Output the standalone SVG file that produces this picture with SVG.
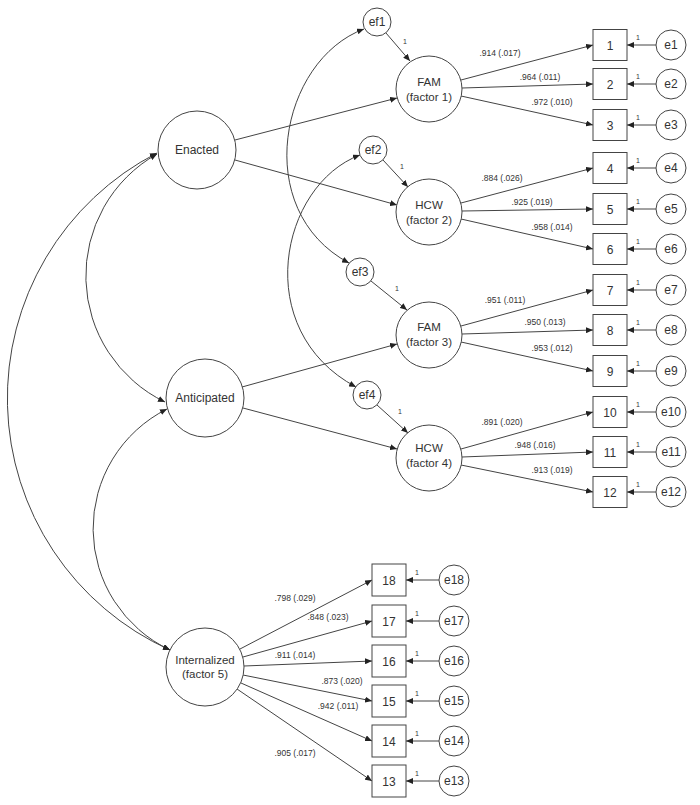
<svg xmlns="http://www.w3.org/2000/svg" width="700" height="805" viewBox="0 0 700 805">
<defs>
<marker id="ah" markerUnits="userSpaceOnUse" markerWidth="7" markerHeight="6" refX="7" refY="3" orient="auto-start-reverse">
<path d="M0,0 L7,3 L0,6 z" fill="#222"/>
</marker>
</defs>
<style>
.n{fill:#fff;stroke:#444;stroke-width:1}
.t{font-family:"Liberation Sans",Arial,sans-serif;font-size:12px;fill:#333;text-anchor:middle}
.f{font-family:"Liberation Sans",Arial,sans-serif;font-size:11.5px;fill:#333;text-anchor:middle}
.c{font-family:"Liberation Sans",Arial,sans-serif;font-size:8.5px;fill:#333;text-anchor:middle}
.o{font-family:"Liberation Sans",Arial,sans-serif;font-size:7px;fill:#333;text-anchor:middle}
.l{fill:none;stroke:#444;stroke-width:1;marker-end:url(#ah)}
.a{fill:none;stroke:#444;stroke-width:1;marker-start:url(#ah);marker-end:url(#ah)}
</style>
<rect width="700" height="805" fill="#fff"/>

<g id="connectors">
<!-- covariances -->
<path class="a" d="M157,153 A276,276 0 0 0 170,650"/>
<path class="a" d="M157,154 A140,140 0 0 0 165,402"/>
<path class="a" d="M167,409 A134,134 0 0 0 170,650"/>
<path class="a" d="M364,29 C280,60 250,210 349,263"/>
<path class="a" d="M360,155 C280,185 250,330 356,387"/>
<!-- structural -->
<path class="l" d="M235,140 L397,98"/>
<path class="l" d="M235,160 L397,205"/>
<path class="l" d="M242,387 L397,344"/>
<path class="l" d="M243,408 L397,449"/>
<path class="l" d="M386,33 L410,61"/>
<path class="l" d="M383,160 L408,187"/>
<path class="l" d="M371,281 L407,310"/>
<path class="l" d="M377,405 L408,433"/>
<!-- loadings -->
<path class="l" d="M461,80 L593,45"/>
<path class="l" d="M462,88 L593,84"/>
<path class="l" d="M461,96 L593,125"/>
<path class="l" d="M461,203 L593,168"/>
<path class="l" d="M462,211 L593,209"/>
<path class="l" d="M461,219 L593,249"/>
<path class="l" d="M461,326 L593,290"/>
<path class="l" d="M462,334 L593,330"/>
<path class="l" d="M461,342 L593,371"/>
<path class="l" d="M461,449 L593,412"/>
<path class="l" d="M462,457 L593,452"/>
<path class="l" d="M461,465 L593,492"/>
<path class="l" d="M240,649 L372,580"/>
<path class="l" d="M243,657 L372,621"/>
<path class="l" d="M244,666 L372,661"/>
<path class="l" d="M243,675 L372,701"/>
<path class="l" d="M241,683 L372,741"/>
<path class="l" d="M237,689 L372,781"/>
<!-- errors -->
<path class="l" d="M656,45 L627,45"/>
<path class="l" d="M656,84 L627,84"/>
<path class="l" d="M656,125 L627,125"/>
<path class="l" d="M656,168 L627,168"/>
<path class="l" d="M656,209 L627,209"/>
<path class="l" d="M656,249 L627,249"/>
<path class="l" d="M656,290 L627,290"/>
<path class="l" d="M656,330 L627,330"/>
<path class="l" d="M656,371 L627,371"/>
<path class="l" d="M656,412 L627,412"/>
<path class="l" d="M656,452 L627,452"/>
<path class="l" d="M656,492 L627,492"/>
<path class="l" d="M439,580 L406,580"/>
<path class="l" d="M439,621 L406,621"/>
<path class="l" d="M439,661 L406,661"/>
<path class="l" d="M439,701 L406,701"/>
<path class="l" d="M439,741 L406,741"/>
<path class="l" d="M439,781 L406,781"/>
<!-- labels -->
<text class="o" x="405" y="44">1</text>
<text class="o" x="402" y="169">1</text>
<text class="o" x="397" y="291">1</text>
<text class="o" x="400" y="414">1</text>
<text class="c" x="500" y="56">.914 (.017)</text>
<text class="c" x="540" y="80">.964 (.011)</text>
<text class="c" x="552" y="105">.972 (.010)</text>
<text class="c" x="502" y="181">.884 (.026)</text>
<text class="c" x="532" y="205">.925 (.019)</text>
<text class="c" x="552" y="230">.958 (.014)</text>
<text class="c" x="505" y="303">.951 (.011)</text>
<text class="c" x="545" y="325">.950 (.013)</text>
<text class="c" x="552" y="351">.953 (.012)</text>
<text class="c" x="502" y="425">.891 (.020)</text>
<text class="c" x="535" y="448">.948 (.016)</text>
<text class="c" x="552" y="473">.913 (.019)</text>
<text class="c" x="295" y="601">.798 (.029)</text>
<text class="c" x="328" y="620">.848 (.023)</text>
<text class="c" x="295" y="658">.911 (.014)</text>
<text class="c" x="342" y="684">.873 (.020)</text>
<text class="c" x="338" y="709">.942 (.011)</text>
<text class="c" x="295" y="756">.905 (.017)</text>
<text class="o" x="638" y="40">1</text>
<text class="o" x="638" y="79">1</text>
<text class="o" x="638" y="120">1</text>
<text class="o" x="638" y="163">1</text>
<text class="o" x="638" y="204">1</text>
<text class="o" x="638" y="244">1</text>
<text class="o" x="638" y="285">1</text>
<text class="o" x="638" y="325">1</text>
<text class="o" x="638" y="366">1</text>
<text class="o" x="638" y="407">1</text>
<text class="o" x="638" y="447">1</text>
<text class="o" x="638" y="487">1</text>
<text class="o" x="417" y="575">1</text>
<text class="o" x="417" y="616">1</text>
<text class="o" x="417" y="656">1</text>
<text class="o" x="417" y="696">1</text>
<text class="o" x="417" y="736">1</text>
<text class="o" x="417" y="776">1</text>
</g>

<g id="enacted"><circle class="n" cx="197" cy="150" r="39"/><text class="t" x="197" y="154">Enacted</text></g>
<g id="anticipated"><circle class="n" cx="205" cy="398" r="39"/><text class="t" x="205" y="402">Anticipated</text></g>
<g id="internalized"><circle class="n" cx="205" cy="667" r="39"/><text class="f" x="205" y="664">Internalized</text><text class="f" x="205" y="678">(factor 5)</text></g>

<g id="ef1"><circle class="n" cx="377" cy="22" r="14"/><text class="t" x="377" y="26">ef1</text></g>
<g id="ef2"><circle class="n" cx="373" cy="150" r="14"/><text class="t" x="373" y="154">ef2</text></g>
<g id="ef3"><circle class="n" cx="360" cy="272" r="14"/><text class="t" x="360" y="276">ef3</text></g>
<g id="ef4"><circle class="n" cx="367" cy="395" r="14"/><text class="t" x="367" y="399">ef4</text></g>

<g id="fam1"><circle class="n" cx="429" cy="89" r="33"/><text class="f" x="429" y="86">FAM</text><text class="f" x="429" y="101">(factor 1)</text></g>
<g id="hcw2"><circle class="n" cx="429" cy="212" r="33"/><text class="f" x="429" y="209">HCW</text><text class="f" x="429" y="224">(factor 2)</text></g>
<g id="fam3"><circle class="n" cx="429" cy="335" r="33"/><text class="f" x="429" y="331">FAM</text><text class="f" x="429" y="346">(factor 3)</text></g>
<g id="hcw4"><circle class="n" cx="429" cy="458" r="33"/><text class="f" x="429" y="452">HCW</text><text class="f" x="429" y="467">(factor 4)</text></g>

<g id="item1"><rect class="n" x="593" y="29.5" width="34" height="31"/><text class="t" x="610" y="49.5">1</text></g>
<g id="item2"><rect class="n" x="593" y="68.5" width="34" height="31"/><text class="t" x="610" y="88.5">2</text></g>
<g id="item3"><rect class="n" x="593" y="109.5" width="34" height="31"/><text class="t" x="610" y="129.5">3</text></g>
<g id="item4"><rect class="n" x="593" y="152.5" width="34" height="31"/><text class="t" x="610" y="172.5">4</text></g>
<g id="item5"><rect class="n" x="593" y="193.5" width="34" height="31"/><text class="t" x="610" y="213.5">5</text></g>
<g id="item6"><rect class="n" x="593" y="233.5" width="34" height="31"/><text class="t" x="610" y="253.5">6</text></g>
<g id="item7"><rect class="n" x="593" y="274.5" width="34" height="31"/><text class="t" x="610" y="294.5">7</text></g>
<g id="item8"><rect class="n" x="593" y="314.5" width="34" height="31"/><text class="t" x="610" y="334.5">8</text></g>
<g id="item9"><rect class="n" x="593" y="355.5" width="34" height="31"/><text class="t" x="610" y="375.5">9</text></g>
<g id="item10"><rect class="n" x="593" y="396.5" width="34" height="31"/><text class="t" x="610" y="416.5">10</text></g>
<g id="item11"><rect class="n" x="593" y="436.5" width="34" height="31"/><text class="t" x="610" y="456.5">11</text></g>
<g id="item12"><rect class="n" x="593" y="476.5" width="34" height="31"/><text class="t" x="610" y="496.5">12</text></g>
<g id="item18"><rect class="n" x="372" y="564" width="34" height="32"/><text class="t" x="389" y="584.5">18</text></g>
<g id="item17"><rect class="n" x="372" y="605" width="34" height="32"/><text class="t" x="389" y="625.5">17</text></g>
<g id="item16"><rect class="n" x="372" y="645" width="34" height="32"/><text class="t" x="389" y="665.5">16</text></g>
<g id="item15"><rect class="n" x="372" y="685" width="34" height="32"/><text class="t" x="389" y="705.5">15</text></g>
<g id="item14"><rect class="n" x="372" y="725" width="34" height="32"/><text class="t" x="389" y="745.5">14</text></g>
<g id="item13"><rect class="n" x="372" y="765" width="34" height="32"/><text class="t" x="389" y="785.5">13</text></g>

<g id="e1"><circle class="n" cx="671" cy="45" r="15"/><text class="t" x="671" y="49">e1</text></g>
<g id="e2"><circle class="n" cx="671" cy="84" r="15"/><text class="t" x="671" y="88">e2</text></g>
<g id="e3"><circle class="n" cx="671" cy="125" r="15"/><text class="t" x="671" y="129">e3</text></g>
<g id="e4"><circle class="n" cx="671" cy="168" r="15"/><text class="t" x="671" y="172">e4</text></g>
<g id="e5"><circle class="n" cx="671" cy="209" r="15"/><text class="t" x="671" y="213">e5</text></g>
<g id="e6"><circle class="n" cx="671" cy="249" r="15"/><text class="t" x="671" y="253">e6</text></g>
<g id="e7"><circle class="n" cx="671" cy="290" r="15"/><text class="t" x="671" y="294">e7</text></g>
<g id="e8"><circle class="n" cx="671" cy="330" r="15"/><text class="t" x="671" y="334">e8</text></g>
<g id="e9"><circle class="n" cx="671" cy="371" r="15"/><text class="t" x="671" y="375">e9</text></g>
<g id="e10"><circle class="n" cx="671" cy="412" r="15"/><text class="t" x="671" y="416">e10</text></g>
<g id="e11"><circle class="n" cx="671" cy="452" r="15"/><text class="t" x="671" y="456">e11</text></g>
<g id="e12"><circle class="n" cx="671" cy="492" r="15"/><text class="t" x="671" y="496">e12</text></g>
<g id="e18"><circle class="n" cx="454" cy="580" r="15"/><text class="t" x="454" y="584">e18</text></g>
<g id="e17"><circle class="n" cx="454" cy="621" r="15"/><text class="t" x="454" y="625">e17</text></g>
<g id="e16"><circle class="n" cx="454" cy="661" r="15"/><text class="t" x="454" y="665">e16</text></g>
<g id="e15"><circle class="n" cx="454" cy="701" r="15"/><text class="t" x="454" y="705">e15</text></g>
<g id="e14"><circle class="n" cx="454" cy="741" r="15"/><text class="t" x="454" y="745">e14</text></g>
<g id="e13"><circle class="n" cx="454" cy="781" r="15"/><text class="t" x="454" y="785">e13</text></g>
</svg>
